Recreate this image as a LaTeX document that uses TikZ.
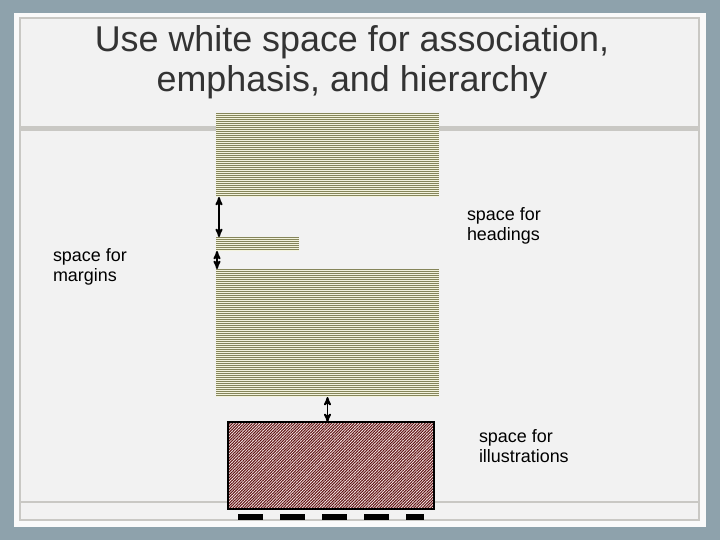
\documentclass[tikz,border=0pt]{standalone}
\usepackage{fontspec}
\setmainfont{Liberation Sans}
\usepackage{tikz}
\usetikzlibrary{arrows, patterns.meta}
\definecolor{slateframe}{HTML}{8EA2AC}
\definecolor{panelgray}{HTML}{F2F2F2}
\definecolor{rulegray}{HTML}{C9C8C4}
\definecolor{olivestripe}{HTML}{85855A}
\definecolor{paleolive}{HTML}{F3F3DD}
\definecolor{darkred}{HTML}{5E1212}
\definecolor{titlegray}{HTML}{333333}

\begin{document}
\begin{tikzpicture}[x=1bp, y=-1bp]
		\tikzstyle{every node} = [inner sep = 0, outer sep = 0]
		\tikzstyle{textblock} = [fill = paleolive, anchor = north west]
		\tikzstyle{figblock} = [preaction = {fill = red!5}, pattern = {Lines[angle = 45, distance = 2bp, line width = 1.05bp]}, pattern color = darkred, anchor = north west]
		\tikzstyle{label} = [font = \fontsize{18}{19.5}\selectfont, align = left, anchor = north west]
		\tikzstyle{gap} = [draw, <->, >=stealth', line width = 1.8bp]
			\path[fill = slateframe] (0,0) rectangle (720,540);
			\useasboundingbox (0,0) rectangle (720,540);
			\path[fill = white!96!gray] (14,13) rectangle (706,527);
			\path[draw = rulegray, fill = panelgray, line width = 2bp] (20,18) rectangle (699,520);
			\path[fill = rulegray] (20,126) rectangle (699,131);
			\path[draw = rulegray, line width = 2bp] (20,502) -- (699,502);
			\node (title) [font = \fontsize{36}{40}\selectfont, text = titlegray, align = center] at (352,62)
				{Use white space for association,\\emphasis, and hierarchy};
			\node (top) [textblock, minimum width = 223bp, minimum height = 84bp] at (216,113) {};
			\node (head) [textblock, minimum width = 83bp, minimum height = 14bp] at (216,237) {};
			\node (body) [textblock, minimum width = 223bp, minimum height = 128bp] at (216,269) {};
			\foreach \y in {0,2,...,82}
				\path[draw = olivestripe, line width = 1bp] (216,113.5+\y) -- (439,113.5+\y);
			\foreach \y in {0,2,...,12}
				\path[draw = olivestripe, line width = 1bp] (216,237.5+\y) -- (299,237.5+\y);
			\foreach \y in {0,2,...,126}
				\path[draw = olivestripe, line width = 1bp] (216,269.5+\y) -- (439,269.5+\y);
			\node (fig) [figblock, draw = black, line width = 2bp, minimum width = 206bp, minimum height = 87bp] at (228,422) {};
			\path[gap] ([xshift = 3bp]top.south west) -- ([xshift = 3bp]head.north west);
			\path[gap] ([xshift = 1bp]head.south west) -- ([xshift = 1bp]body.north west);
			\path[gap] (body.south) -- (body.south |- fig.north);
			\foreach \x/\w in {238/25, 280/25, 322/25, 364/25, 406/18}
				\path[fill = black] (\x,514) rectangle ++(\w,6);
			\node (headings) [label] at (467,208) {space for\\headings};
			\node (margins) [label] at (53,249) {space for\\margins};
			\node (illus) [label] at (479,430) {space for\\illustrations};
\end{tikzpicture}
\end{document}
